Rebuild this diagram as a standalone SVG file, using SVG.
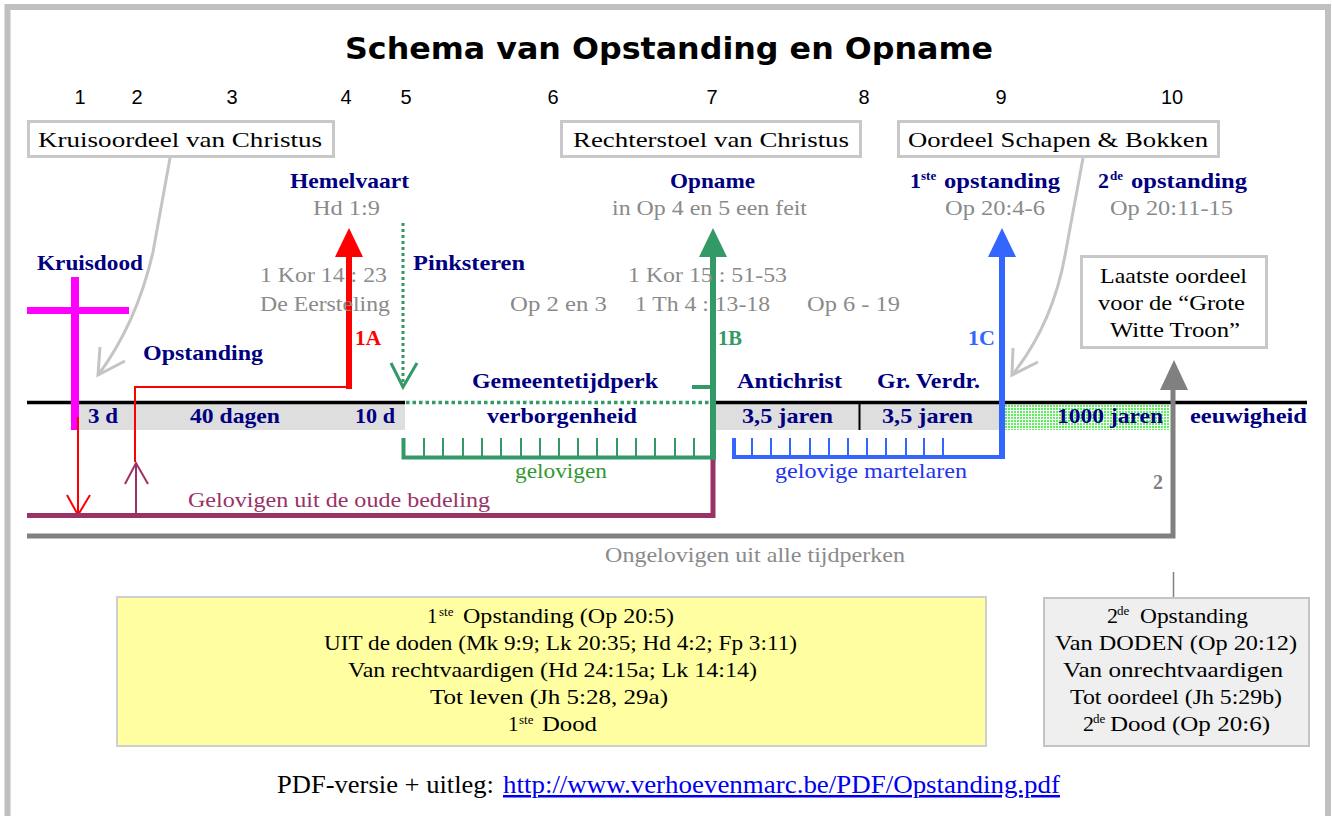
<svg xmlns="http://www.w3.org/2000/svg" width="1332" height="816" viewBox="0 0 1332 816">
<style>
.ser{font-family:"Liberation Serif","Times New Roman",serif}
.sans{font-family:"Liberation Sans",Arial,sans-serif}
.box{fill:#fff;stroke:#c8c8c8;stroke-width:3}
.bt{font-size:22px;fill:#000}
.lbl{font-size:22px;font-weight:bold;fill:#000080}
.ref{font-size:22px;fill:#8a8a8a}
.band{font-size:21px;font-weight:bold;fill:#000080}
.num{font-size:20px;fill:#000}
.sup{font-size:13px}
.ct{font-size:21px;fill:#000}
</style>
<defs>
<pattern id="dotG" width="3" height="3" patternUnits="userSpaceOnUse"><rect width="3" height="3" fill="#ffffff"/><rect width="2" height="2" fill="#5cf05c"/></pattern>
</defs>

<rect x="0" y="0" width="1332" height="816" fill="#fff"/>
<rect x="7.5" y="7" width="1320.5" height="830" fill="none" stroke="#c0c0c0" stroke-width="6"/>

<g id="title">
<text x="345" y="59" font-size="31" font-weight="bold" textLength="648" lengthAdjust="spacingAndGlyphs" style="font-family:'DejaVu Sans',sans-serif">Schema van Opstanding en Opname</text>
</g>

<g id="numbers" class="sans num" text-anchor="middle">
<text x="80" y="104">1</text>
<text x="137" y="104">2</text>
<text x="232" y="104">3</text>
<text x="346" y="104">4</text>
<text x="406" y="104">5</text>
<text x="553" y="104">6</text>
<text x="712" y="104">7</text>
<text x="864" y="104">8</text>
<text x="1001" y="104">9</text>
<text x="1172" y="104">10</text>
</g>

<g id="timeline">
<rect x="78" y="404" width="327" height="26" fill="#dedede"/>
<rect x="713" y="404" width="290" height="26" fill="#dedede"/>
<rect x="1003" y="404" width="167" height="26" fill="url(#dotG)"/>
<line x1="27" y1="402.5" x2="405" y2="402.5" stroke="#000" stroke-width="3.5"/>
<line x1="406" y1="402.5" x2="712" y2="402.5" stroke="#339966" stroke-width="3.5" stroke-dasharray="3.5,3"/>
<line x1="712" y1="402.5" x2="1307" y2="402.5" stroke="#000" stroke-width="3.5"/>
<line x1="859.5" y1="404" x2="859.5" y2="430" stroke="#000" stroke-width="2"/>
<g class="ser band">
<text x="88" y="423" textLength="30" lengthAdjust="spacingAndGlyphs">3 d</text>
<text x="190" y="423" textLength="90" lengthAdjust="spacingAndGlyphs">40 dagen</text>
<text x="355" y="423" textLength="40" lengthAdjust="spacingAndGlyphs">10 d</text>
<text x="487" y="423" textLength="150" lengthAdjust="spacingAndGlyphs">verborgenheid</text>
<text x="742" y="423" textLength="91" lengthAdjust="spacingAndGlyphs">3,5 jaren</text>
<text x="882" y="423" textLength="91" lengthAdjust="spacingAndGlyphs">3,5 jaren</text>
<text x="1057" y="423" textLength="106" lengthAdjust="spacingAndGlyphs">1000 jaren</text>
<text x="1190" y="423" textLength="117" lengthAdjust="spacingAndGlyphs">eeuwigheid</text>
</g>
</g>

<g id="connectors" fill="none">
<path d="M170,158 L153,252 Q137,322 99,374" stroke="#c4c4c4" stroke-width="3"/>
<path d="M100,347 L98,375 L125,361" stroke="#c4c4c4" stroke-width="3"/>
<path d="M1083,158 L1066,250 Q1054,322 1013,374" stroke="#c4c4c4" stroke-width="3"/>
<path d="M1013,348 L1012,375 L1038,362" stroke="#c4c4c4" stroke-width="3"/>
<line x1="75" y1="277" x2="75" y2="430" stroke="#ff00ff" stroke-width="8"/>
<line x1="27" y1="310.5" x2="129" y2="310.5" stroke="#ff00ff" stroke-width="7"/>
<polyline points="135,462 135,387 349,387" stroke="#ff0000" stroke-width="2"/>
<line x1="349" y1="389" x2="349" y2="255" stroke="#ff0000" stroke-width="6"/>
<polygon points="349,228 335,257 363,257" fill="#ff0000"/>
<line x1="78" y1="417" x2="78" y2="514" stroke="#ff0000" stroke-width="2"/>
<path d="M67,495 L78,515 L90,495" stroke="#ff0000" stroke-width="2"/>
<line x1="136" y1="515" x2="136" y2="463" stroke="#993366" stroke-width="2"/>
<path d="M125,484 L136,463 L148,484" stroke="#993366" stroke-width="2"/>
<line x1="403" y1="223" x2="403" y2="384" stroke="#339966" stroke-width="3" stroke-dasharray="3,3"/>
<path d="M391,363 L403,387 L417,363" stroke="#339966" stroke-width="3"/>
<path d="M403.5,438 V457.5 H715" stroke="#339966" stroke-width="4"/>
<path d="M424,438v19 M443,438v19 M463,438v19 M482,438v19 M501,438v19 M521,438v19 M540,438v19 M559,438v19 M578,438v19 M597,438v19 M617,438v19 M636,438v19 M655,438v19 M675,438v19 M694,438v19" stroke="#339966" stroke-width="2"/>
<line x1="713" y1="460" x2="713" y2="255" stroke="#339966" stroke-width="6"/>
<polygon points="713,228 699,257 727,257" fill="#339966"/>
<line x1="692" y1="387" x2="713" y2="387" stroke="#339966" stroke-width="4"/>
<path d="M27,515.5 H713 V460" stroke="#993366" stroke-width="5"/>
<path d="M734,438 V457 H1002" stroke="#3366ff" stroke-width="4"/>
<path d="M752,438v19 M771,438v19 M790,438v19 M810,438v19 M829,438v19 M848,438v19 M867,438v19 M886,438v19 M906,438v19 M924,438v19 M943,438v19" stroke="#3366ff" stroke-width="2"/>
<line x1="1002" y1="459" x2="1002" y2="255" stroke="#3366ff" stroke-width="6"/>
<polygon points="1002,228 988,257 1016,257" fill="#3366ff"/>
<path d="M27,536 H1173 V388" stroke="#808080" stroke-width="5"/>
<polygon points="1174,360 1160,390 1188,390" fill="#808080"/>
<line x1="1173.5" y1="572" x2="1173.5" y2="598" stroke="#808080" stroke-width="1.5"/>
</g>

<g id="box-kruisoordeel">
<rect x="28.5" y="121.5" width="305" height="35" class="box"/>
<text x="38" y="147" class="ser bt" textLength="284" lengthAdjust="spacingAndGlyphs">Kruisoordeel van Christus</text>
</g>
<g id="box-rechterstoel">
<rect x="561.5" y="121.5" width="299" height="35" class="box"/>
<text x="573" y="147" class="ser bt" textLength="276" lengthAdjust="spacingAndGlyphs">Rechterstoel van Christus</text>
</g>
<g id="box-schapen">
<rect x="898.5" y="121.5" width="320" height="35" class="box"/>
<text x="908" y="147" class="ser bt" textLength="300" lengthAdjust="spacingAndGlyphs">Oordeel Schapen &amp; Bokken</text>
</g>

<g id="hemelvaart" class="ser">
<text x="290" y="188" class="lbl" textLength="119" lengthAdjust="spacingAndGlyphs">Hemelvaart</text>
<text x="313" y="215" class="ref" textLength="67" lengthAdjust="spacingAndGlyphs">Hd 1:9</text>
</g>
<g id="opname" class="ser">
<text x="670" y="188" class="lbl" textLength="85" lengthAdjust="spacingAndGlyphs">Opname</text>
<text x="612" y="215" class="ref" textLength="195" lengthAdjust="spacingAndGlyphs">in Op 4 en 5 een feit</text>
</g>
<g id="opstanding1" class="ser">
<text y="188" class="lbl"><tspan x="910">1</tspan><tspan x="921" y="180" class="sup">ste</tspan><tspan x="944" y="188" textLength="116" lengthAdjust="spacingAndGlyphs">opstanding</tspan></text>
<text x="945" y="215" class="ref" textLength="100" lengthAdjust="spacingAndGlyphs">Op 20:4-6</text>
</g>
<g id="opstanding2" class="ser">
<text y="188" class="lbl"><tspan x="1098">2</tspan><tspan x="1110" y="180" class="sup">de</tspan><tspan x="1131" y="188" textLength="116" lengthAdjust="spacingAndGlyphs">opstanding</tspan></text>
<text x="1110" y="215" class="ref" textLength="123" lengthAdjust="spacingAndGlyphs">Op 20:11-15</text>
</g>

<g id="kruisdood" class="ser">
<text x="37" y="270" class="lbl" textLength="106" lengthAdjust="spacingAndGlyphs">Kruisdood</text>
</g>
<g id="opstanding" class="ser">
<text x="143" y="360" class="lbl" textLength="120" lengthAdjust="spacingAndGlyphs">Opstanding</text>
</g>
<g id="refs-1a" class="ser">
<text x="260" y="282" class="ref" textLength="127" lengthAdjust="spacingAndGlyphs">1 Kor 14 : 23</text>
<text x="260" y="311" class="ref" textLength="130" lengthAdjust="spacingAndGlyphs">De Eersteling</text>
<text x="355" y="345" font-size="21" font-weight="bold" fill="#ff0000" textLength="26" lengthAdjust="spacingAndGlyphs">1A</text>
</g>
<g id="pinksteren" class="ser">
<text x="413" y="270" class="lbl" textLength="112" lengthAdjust="spacingAndGlyphs">Pinksteren</text>
</g>
<g id="refs-1b" class="ser">
<text x="628" y="282" class="ref" textLength="159" lengthAdjust="spacingAndGlyphs">1 Kor 15 : 51-53</text>
<text x="510" y="311" class="ref" textLength="97" lengthAdjust="spacingAndGlyphs">Op 2 en 3</text>
<text x="635" y="311" class="ref" textLength="135" lengthAdjust="spacingAndGlyphs">1 Th 4 : 13-18</text>
<text x="807" y="311" class="ref" textLength="93" lengthAdjust="spacingAndGlyphs">Op 6 - 19</text>
<text x="718" y="345" font-size="21" font-weight="bold" fill="#339966" textLength="24" lengthAdjust="spacingAndGlyphs">1B</text>
</g>
<g id="label-1c" class="ser">
<text x="968" y="345" font-size="21" font-weight="bold" fill="#3366ff" textLength="27" lengthAdjust="spacingAndGlyphs">1C</text>
</g>
<g id="periods" class="ser">
<text x="472" y="388" class="lbl" textLength="186" lengthAdjust="spacingAndGlyphs">Gemeentetijdperk</text>
<text x="737" y="388" class="lbl" textLength="105" lengthAdjust="spacingAndGlyphs">Antichrist</text>
<text x="877" y="388" class="lbl" textLength="103" lengthAdjust="spacingAndGlyphs">Gr. Verdr.</text>
</g>
<g id="groups" class="ser">
<text x="515" y="478" font-size="21" fill="#339933" textLength="92" lengthAdjust="spacingAndGlyphs">gelovigen</text>
<text x="775" y="478" font-size="21" fill="#2233ee" textLength="192" lengthAdjust="spacingAndGlyphs">gelovige martelaren</text>
<text x="188" y="507" font-size="21" fill="#993366" textLength="302" lengthAdjust="spacingAndGlyphs">Gelovigen uit de oude bedeling</text>
<text x="605" y="562" font-size="21" fill="#8a8a8a" textLength="300" lengthAdjust="spacingAndGlyphs">Ongelovigen uit alle tijdperken</text>
<text x="1153" y="489" font-size="20" font-weight="bold" fill="#808080">2</text>
</g>

<g id="box-laatste-oordeel">
<rect x="1081.5" y="256.5" width="185" height="91" class="box"/>
<g class="ser bt">
<text x="1100" y="283" textLength="147" lengthAdjust="spacingAndGlyphs">Laatste oordeel</text>
<text x="1098" y="310" textLength="147" lengthAdjust="spacingAndGlyphs">voor de “Grote</text>
<text x="1110" y="337" textLength="130" lengthAdjust="spacingAndGlyphs">Witte Troon”</text>
</g>
</g>

<g id="box-opstanding1">
<rect x="117" y="597" width="869" height="149" fill="#ffffa2" stroke="#cfcfcf" stroke-width="2"/>
<g class="ser ct">
<text y="623"><tspan x="427">1</tspan><tspan x="439" y="616" class="sup">ste</tspan><tspan x="463" y="623" textLength="211" lengthAdjust="spacingAndGlyphs">Opstanding (Op 20:5)</tspan></text>
<text x="324" y="650" textLength="473" lengthAdjust="spacingAndGlyphs">UIT de doden (Mk 9:9; Lk 20:35; Hd 4:2; Fp 3:11)</text>
<text x="348" y="677" textLength="409" lengthAdjust="spacingAndGlyphs">Van rechtvaardigen (Hd 24:15a; Lk 14:14)</text>
<text x="430" y="704" textLength="238" lengthAdjust="spacingAndGlyphs">Tot leven (Jh 5:28, 29a)</text>
<text y="731"><tspan x="508">1</tspan><tspan x="519" y="724" class="sup">ste</tspan><tspan x="542" y="731" textLength="55" lengthAdjust="spacingAndGlyphs">Dood</tspan></text>
</g>
</g>

<g id="box-opstanding2">
<rect x="1044" y="598" width="265" height="148" fill="#efefef" stroke="#c4c4c4" stroke-width="2"/>
<g class="ser" font-size="22" fill="#000">
<text y="623"><tspan x="1107">2</tspan><tspan x="1117" y="615" class="sup">de</tspan><tspan x="1140" y="623" textLength="108" lengthAdjust="spacingAndGlyphs">Opstanding</tspan></text>
<text x="1055" y="650" textLength="242" lengthAdjust="spacingAndGlyphs">Van DODEN (Op 20:12)</text>
<text x="1063" y="677" textLength="220" lengthAdjust="spacingAndGlyphs">Van onrechtvaardigen</text>
<text x="1070" y="704" textLength="212" lengthAdjust="spacingAndGlyphs">Tot oordeel (Jh 5:29b)</text>
<text y="731"><tspan x="1083">2</tspan><tspan x="1093" y="723" class="sup">de</tspan><tspan x="1110" y="731" textLength="160" lengthAdjust="spacingAndGlyphs">Dood (Op 20:6)</tspan></text>
</g>
</g>

<g id="footer" class="ser" font-size="25">
<text x="277" y="793" fill="#000" textLength="217" lengthAdjust="spacingAndGlyphs">PDF-versie + uitleg:</text>
<text x="503" y="793" fill="#0000ee" text-decoration="underline" textLength="557" lengthAdjust="spacingAndGlyphs">http://www.verhoevenmarc.be/PDF/Opstanding.pdf</text>
</g>
</svg>
